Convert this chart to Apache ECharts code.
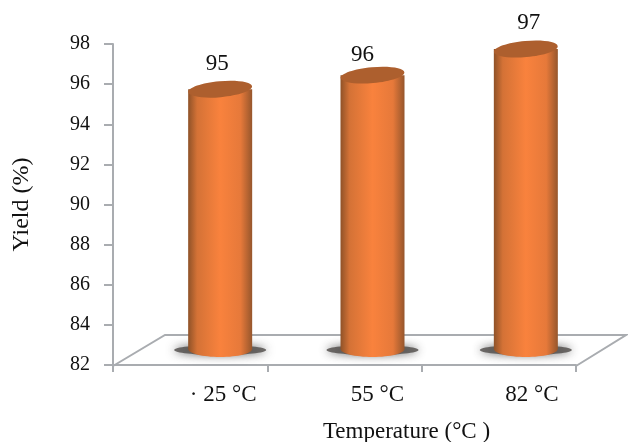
<!DOCTYPE html>
<html><head><meta charset="utf-8">
<style>html,body{margin:0;padding:0;background:#fff}#c{width:628px;height:442px}</style>
<script src="https://cdn.jsdelivr.net/npm/echarts@6/dist/echarts.min.js"></script>
</head><body><div id="c"></div>
<script>
const categories = ['· 25 °C', '55 °C', '82 °C'];
const yieldValues = [95, 95.7, 97];
const yieldLabels = ['95', '96', '97'];
const yTicks = {min: 82, max: 98, interval: 2};
const font = '"Liberation Serif", serif';
const axisGrey = '#a9acb0';
const chart = echarts.init(document.getElementById('c'));
const depthXs = [30, 28, 27], labelLift = [25, 20, 26], labelShift = [-1, -8, 5], depthY = 15, halfW = 32, ry = 8;
const body = {type:'linear',x:0,y:0,x2:1,y2:0,colorStops:[
  {offset:0,color:'#8f5228'},{offset:.14,color:'#d47236'},{offset:.5,color:'#f9823d'},
  {offset:.82,color:'#e6793a'},{offset:1,color:'#96562c'}]};
function renderBar(params, api){
  const i = api.value(0);
  const top = api.coord([i, api.value(1)]);
  const base = api.coord([i, yTicks.min]);
  const cx = top[0] + depthXs[i];
  const ty = top[1] - depthY, by = base[1] - 16;
  return {type:'group',children:[
    {type:'ellipse',shape:{cx:cx,cy:by+1,rx:halfW+14,ry:5},
      style:{fill:'#4f4b48',shadowBlur:10,shadowColor:'rgba(50,50,50,.9)',opacity:.8}},
    {type:'rect',shape:{x:cx-halfW,y:ty,width:halfW*2,height:by-ty},style:{fill:body}},
    {type:'ellipse',shape:{cx:cx,cy:by,rx:halfW,ry:ry},style:{fill:body}},
    {type:'ellipse',shape:{cx:cx,cy:ty,rx:halfW,ry:ry},rotation:0.09,originX:cx,originY:ty,
      style:{fill:'#ad5f2e'}},
    {type:'text',style:{x:cx-2+labelShift[i],y:ty-labelLift[i],text:yieldLabels[i],font:'23px '+font,fill:'#111',align:'center',verticalAlign:'middle'}}
  ]};
}
function renderFloor(params, api){
  const a = api.coord([0, yTicks.min]);
  const s = api.size([1, 0]);
  const l = a[0]-s[0]/2, r = a[0]+s[0]*2.5, y = a[1]+1;
  const line = {stroke:axisGrey,lineWidth:2,fill:null};
  return {type:'group',silent:true,children:[
    {type:'polyline',shape:{points:[[l,y],[l+52,y-31],[r+50,y-31],[r,y]]},style:line}
  ]};
}
chart.setOption({
  animation:false,
  grid:{left:113,right:52,top:44,bottom:77,containLabel:false,outerBoundsMode:'none'},
  xAxis:{type:'category',data:categories,boundaryGap:true,
    axisLine:{show:true,lineStyle:{color:axisGrey,width:2}},
    axisTick:{show:true,alignWithLabel:false,length:7,inside:false,lineStyle:{color:axisGrey,width:2}},
    axisLabel:{color:'#111',fontFamily:font,fontSize:23,margin:18,padding:[0,0,0,66]},
    name:'Temperature (°C )',nameLocation:'middle',nameGap:55,
    nameTextStyle:{color:'#111',fontFamily:font,fontSize:23,padding:[0,0,0,124]}},
  yAxis:{type:'value',min:yTicks.min,max:yTicks.max,interval:yTicks.interval,
    axisLine:{show:true,lineStyle:{color:axisGrey,width:2}},
    axisTick:{show:true,length:9,lineStyle:{color:axisGrey,width:2}},
    splitLine:{show:false},
    axisLabel:{color:'#111',fontFamily:font,fontSize:20,margin:23},
    name:'Yield (%)',nameLocation:'middle',nameGap:75,nameRotate:90,
    nameTextStyle:{color:'#111',fontFamily:font,fontSize:24,padding:[0,0,4,0]}},
  series:[
    {type:'custom',clip:false,z:1,renderItem:renderFloor,data:[[0,yTicks.min]],encode:{x:0,y:1},silent:true},
    {type:'custom',clip:false,z:2,renderItem:renderBar,
     data:yieldValues.map((v,i)=>[i,v]),encode:{x:0,y:1}}
  ]
});
</script></body></html>
